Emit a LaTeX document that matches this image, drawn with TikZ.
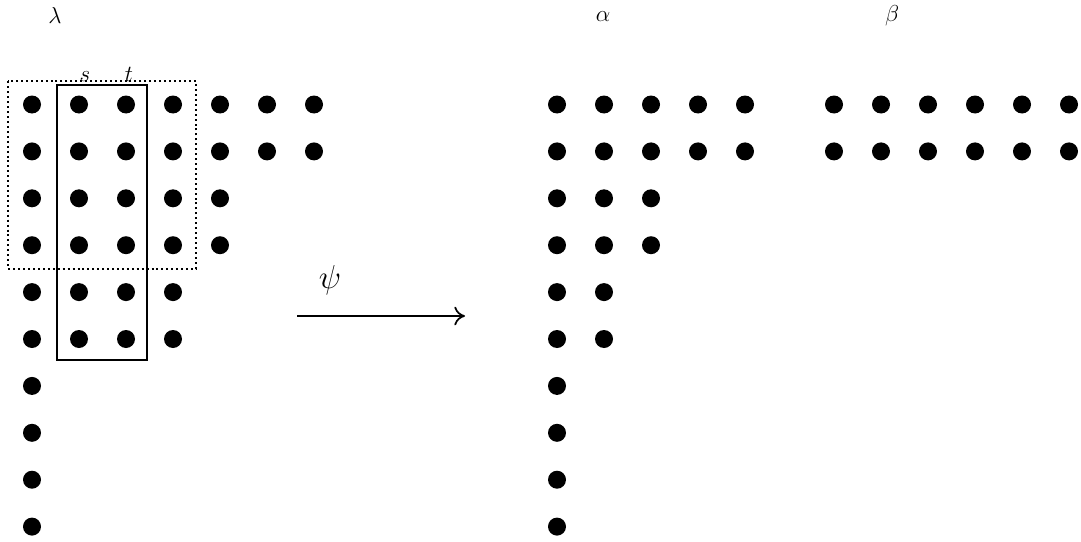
\documentclass[tikz,border=0pt]{standalone}
\usepackage{fontspec}
\usetikzlibrary{arrows.meta}
\tikzset{
  dot/.style={circle,fill=black,inner sep=0pt,minimum size=13.5pt},
  lbl/.style={inner sep=0pt,font=\fontsize{16}{18}\selectfont},
  smlbl/.style={inner sep=0pt,font=\fontsize{16}{18}\selectfont},
  biglbl/.style={inner sep=0pt,font=\fontsize{25}{28}\selectfont},
  frame/.style={line width=1.1pt},
  dotframe/.style={line width=1.5pt,dash pattern=on 1.5pt off 2.2pt},
  maparrow/.style={line width=1.3pt,-{To[length=8pt,width=14pt]}}
}
\begin{document}
\begin{tikzpicture}[x=0.75pt,y=-0.75pt]
\useasboundingbox (0,0) rectangle (1081,542);
\draw[dotframe] (8,81.5) rectangle (196,268.5);
\draw[frame] (57,85) rectangle (147,360);
% lambda
\foreach \r/\n in {0/7,1/7,2/5,3/5,4/4,5/4,6/1,7/1,8/1,9/1}{
  \foreach \c in {1,...,\n}{
    \node[dot] (l-\r-\c) at ({32+47*(\c-1)},{104.5+46.9*\r}) {};
  }
}
% alpha
\foreach \r/\n in {0/5,1/5,2/3,3/3,4/2,5/2,6/1,7/1,8/1,9/1}{
  \foreach \c in {1,...,\n}{
    \node[dot] (a-\r-\c) at ({557+47*(\c-1)},{104.5+46.9*\r}) {};
  }
}
% beta
\foreach \r in {0,1}{
  \foreach \c in {1,...,6}{
    \node[dot] (b-\r-\c) at ({834+47*(\c-1)},{104.5+46.9*\r}) {};
  }
}
\node[lbl] (lam) at (55,16) {$\lambda$};
\node[lbl] (alp) at (603,17) {$\alpha$};
\node[lbl] (bet) at (892,16) {$\beta$};
\node[smlbl,anchor=base] (s) at (85,81) {$s$};
\node[smlbl,anchor=base] (t) at (129,81) {$t$};
\node[biglbl] (psi) at (330,280) {$\psi$};
\coordinate (arS) at (297,316);
\coordinate (arE) at (465,316);
\draw[maparrow] (arS) -- (arE);
\end{tikzpicture}
\end{document}
